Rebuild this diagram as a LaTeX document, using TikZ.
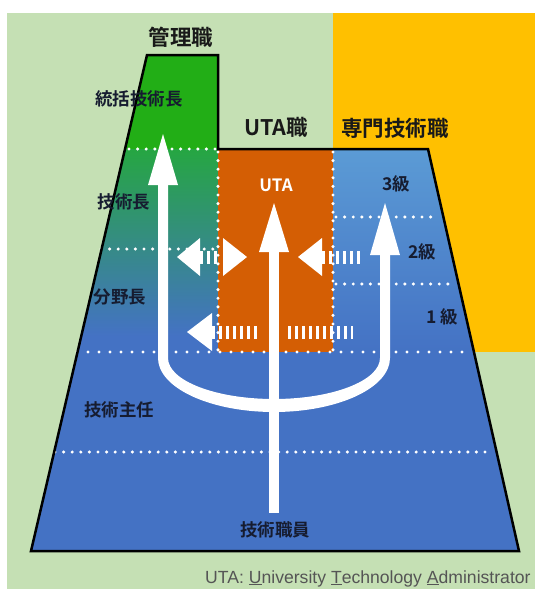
\documentclass[tikz,border=0pt]{standalone}
\usepackage{fontspec}
\newfontfamily\jp{Noto Sans CJK JP Bold}
\newfontfamily\lat{Liberation Sans}
\definecolor{bggreen}{RGB}{197,224,180}
\definecolor{bgorange}{RGB}{255,192,0}
\definecolor{mgreen}{RGB}{34,174,22}
\definecolor{sgreen}{RGB}{38,166,66}
\definecolor{midteal}{RGB}{45,140,150}
\definecolor{cblue}{RGB}{68,114,196}
\definecolor{lblue}{RGB}{91,155,213}
\definecolor{utaor}{RGB}{212,94,4}
\definecolor{labc}{RGB}{22,28,48}
\definecolor{notec}{RGB}{85,85,85}
\begin{document}
\begin{tikzpicture}[x=1pt,y=-1pt,
  dots/.style={white, line width=3.4pt, line cap=round, dash pattern=on 0pt off 8.6pt},
  wdots/.style={white, line width=3.4pt, line cap=round, dash pattern=on 0pt off 11pt},
  stripes/.style={white, line width=13pt, dash pattern=on 3.2pt off 3.8pt},
  lab/.style={font=\jp\fontsize{17.5}{17.5}\selectfont, text=labc, inner sep=0pt},
  ttl/.style={font=\jp\fontsize{21.5}{21.5}\selectfont, text=black!90, inner sep=0pt},
  headtri/.style={fill=white, draw=none}]
\def\trap{(147,55) -- (218,55) -- (218,149) -- (428,149) -- (519,551) -- (31,551) -- cycle}
\useasboundingbox (0,0) rectangle (535,589);
\fill[white] (0,0) rectangle (535,589);
\fill[bggreen] (7,13) rectangle (535,589);
\fill[bgorange] (333,13) rectangle (535,352);
% fills
\begin{scope}
  \clip \trap;
  \fill[cblue] (0,0) rectangle (535,589);
  \fill[mgreen] (0,40) rectangle (218,149.5);
  \fill[top color=sgreen, middle color=midteal, bottom color=cblue] (0,149) rectangle (218,336);
  \fill[utaor] (218,149) rectangle (333,352);
  \fill[top color=lblue, bottom color=cblue] (333,149) rectangle (535,352);
\end{scope}
% dotted lines
\draw[dots] (129,149) -- (216,149);
\draw[dots] (101,249) -- (216,249);
\draw[dots] (336,217) -- (437,217);
\draw[dots] (336,284) -- (455,284);
\draw[wdots] (77,352) -- (472,352);
\draw[dots] (55,452) -- (490,452);
\draw[dots] (218,152) -- (218,357);
\draw[dots] (333,152) -- (333,357);
% trident arrow
\fill[white] (158,184) -- (158,358) arc[start angle=180, end angle=360, x radius=116pt, y radius=54pt]
  -- (390,254) -- (380,254) -- (380,358) arc[start angle=0, end angle=-180, x radius=106pt, y radius=41pt]
  -- (168,358) -- (168,184) -- cycle;
\fill[headtri] (163,134) -- (178,185) -- (148,185) -- cycle;
\fill[headtri] (385,203) -- (400,255) -- (370,255) -- cycle;
\draw[white, line width=10.5pt] (274,250) -- (274,513);
\fill[headtri] (274,203) -- (289,252) -- (259,252) -- cycle;
% striped arrows
\fill[headtri] (177,257) -- (200,238) -- (200,276) -- cycle;
\draw[stripes] (200,257) -- (218,257);
\fill[headtri] (247,257) -- (223,238) -- (223,276) -- cycle;
\fill[headtri] (298,257) -- (322,238) -- (322,276) -- cycle;
\draw[stripes] (322,257) -- (362,257);
\fill[headtri] (187,332) -- (212,313) -- (212,351) -- cycle;
\draw[stripes] (212,332) -- (260,332);
\draw[stripes] (288,332) -- (353,332);
% outline
\draw[black, line width=2.5pt, line join=miter] \trap;
% texts
\node[ttl] (kanri) at (181,37) {管理職};
\node[ttl] (utashoku) at (276,127) {UTA職};
\node[ttl] (senmon) at (395,128) {専門技術職};
\node[lab] (tokatsu) at (139,99) {統括技術長};
\node[lab] (gijutsucho) at (124,202) {技術長};
\node[lab] (bunya) at (120,297) {分野長};
\node[lab] (shunin) at (119,410) {技術主任};
\node[lab] (shokuin) at (275,530) {技術職員};
\node[lab, text=white, font=\jp\fontsize{17}{17}\selectfont] (uta) at (276,185) {UTA};
\node[lab] (k3) at (396,184) {3級};
\node[lab] (k2) at (422,252) {2級};
\node[lab] (k1) at (442,317) {1 級};
\node[anchor=base west, inner sep=0pt, text=notec, font=\lat\fontsize{17.6}{17.6}\selectfont] (note) at (205,583)
  {UTA: \underline{U}niversity \underline{T}echnology \underline{A}dministrator};
\end{tikzpicture}
\end{document}
